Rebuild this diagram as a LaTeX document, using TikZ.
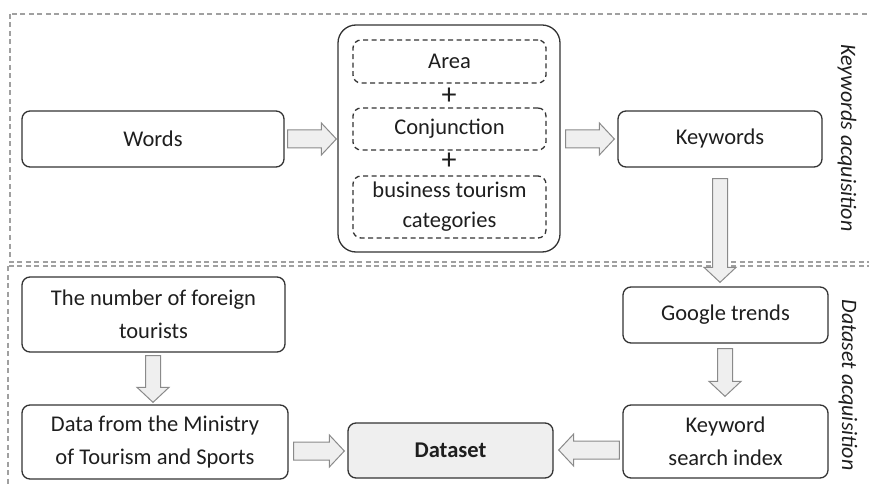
\documentclass[tikz,border=0pt]{standalone}
\usepackage{fontspec}
\setmainfont{Carlito}
\usetikzlibrary{calc}
\definecolor{boxline}{HTML}{333333}
\definecolor{txt}{HTML}{1E1E1E}
\definecolor{arrfill}{HTML}{EFEFEF}
\definecolor{arrline}{HTML}{8A8A8A}
\definecolor{frameline}{HTML}{A0A0A0}
\tikzset{
  box/.style={draw=boxline, line width=1.3pt, rounded corners=8pt, align=center,
    text=txt, font=\fontsize{22.5}{33}\selectfont, inner sep=0pt},
  inbox/.style={box, dashed, dash pattern=on 5pt off 3.5pt},
  blockarr/.style={draw=arrline, fill=arrfill, line width=1pt, line join=miter},
  frame/.style={draw=frameline, line width=1.1pt, dash pattern=on 5pt off 3.5pt},
  sidelabel/.style={font=\fontsize{22}{26}\selectfont\itshape, text=txt, rotate=-90, inner sep=0pt},
  plus/.style={font=\fontsize{30}{30}\selectfont, text=txt, inner sep=0pt}
}
\newcommand\blockarrow[3][9]{%
  \coordinate (ba-s) at #2; \coordinate (ba-e) at #3;
  \coordinate (ba-b) at ($(ba-e)!15pt!(ba-s)$);
  \draw[blockarr] ($(ba-s)!#1pt!90:(ba-e)$) -- ($(ba-b)!#1pt!-90:(ba-s)$)
    -- ($(ba-b)!16pt!-90:(ba-s)$) -- (ba-e) -- ($(ba-b)!16pt!90:(ba-s)$)
    -- ($(ba-b)!#1pt!90:(ba-s)$) -- ($(ba-s)!#1pt!-90:(ba-e)$) -- cycle;}
\begin{document}
\begin{tikzpicture}[x=1pt,y=-1pt]
\useasboundingbox (0,0) rectangle (869,486);
\begin{scope}
\clip (0,0) rectangle (869,486);
\draw[frame] (10,14) rectangle (900,262);
\draw[frame] (8,266) rectangle (900,520);
\end{scope}

% top row
\node[box, minimum width=262pt, minimum height=56pt] (words) at (153,139) {Words};
\node[box, rounded corners=18pt, minimum width=222pt, minimum height=227pt] (big) at (449,138.5) {};
\node[inbox, minimum width=193pt, minimum height=43pt] (area) at (449.5,61.5) {Area};
\node[inbox, minimum width=193pt, minimum height=42pt] (conj) at (449.5,129) {Conjunction};
\node[inbox, minimum width=193pt, minimum height=62pt, font=\fontsize{22.5}{30}\selectfont] (biz) at (449.5,207) {business tourism\\categories};
\node[plus] (plus1) at (449,96) {+};
\node[plus] (plus2) at (449,161) {+};
\node[box, minimum width=204pt, minimum height=56pt] (keywords) at (720,139) {Keywords};
\node[sidelabel] (lab1) at (847,138) {Keywords acquisition};

% bottom area
\node[box, minimum width=205pt, minimum height=56pt] (google) at (725.5,315) {Google trends};
\node[box, minimum width=205pt, minimum height=73pt] (ksi) at (725.5,441.5) {Keyword\\search index};
\node[box, minimum width=205pt, minimum height=55pt, fill=arrfill, font=\fontsize{22.5}{33}\selectfont\bfseries] (dataset) at (450.5,450.5) {Dataset};
\node[box, minimum width=263pt, minimum height=75pt] (foreign) at (153.5,314.5) {The number of foreign\\tourists};
\node[box, minimum width=266pt, minimum height=74pt] (ministry) at (155,442) {Data from the Ministry\\of Tourism and Sports};
\node[sidelabel] (lab2) at (848,385) {Dataset acquisition};

% block arrows
\blockarrow{($(words.east|-0,139)+(3,0)$)}{($(big.west|-0,139)+(-1,0)$)}
\blockarrow{($(big.east|-0,139)+(5,0)$)}{($(keywords.west|-0,139)+(-3,0)$)}
\blockarrow[7.5]{($(keywords.south-|720,0)+(0,11)$)}{($(google.north-|720,0)+(0,-4)$)}
\blockarrow[7.5]{($(google.south-|725,0)+(0,5)$)}{($(ksi.north-|725,0)+(0,-8)$)}
\blockarrow{($(ksi.west|-0,450)+(-3,0)$)}{($(dataset.east|-0,450)+(5,0)$)}
\blockarrow{($(ministry.east|-0,451)+(5,0)$)}{($(dataset.west|-0,451)+(-3,0)$)}
\blockarrow[7.5]{($(foreign.south-|153,0)+(0,3)$)}{($(ministry.north-|153,0)+(0,-2)$)}
\end{tikzpicture}
\end{document}
